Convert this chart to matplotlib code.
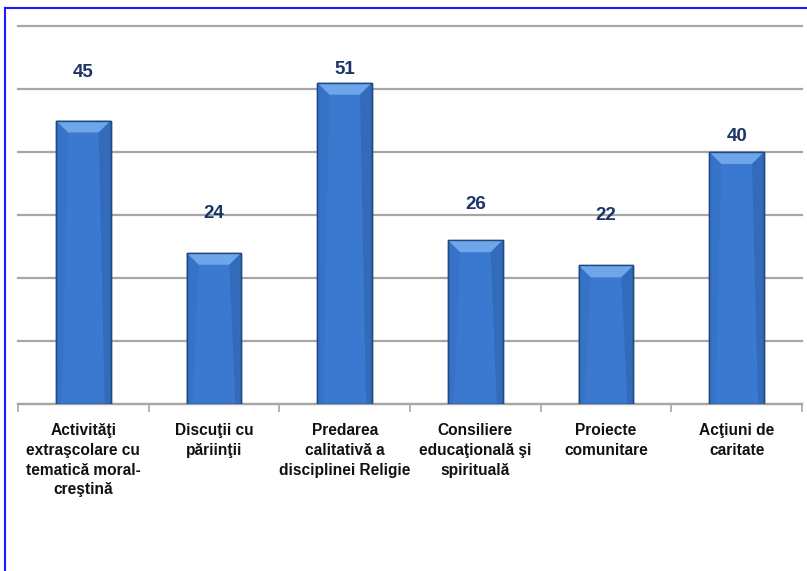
import matplotlib
matplotlib.use("Agg")
import matplotlib.pyplot as plt
from matplotlib.patches import Polygon, Rectangle
from matplotlib.lines import Line2D
import numpy as np

categories = [
    "Activităţi\nextraşcolare cu\ntematică moral-\ncreştină",
    "Discuţii cu\npăriinţii",
    "Predarea\ncalitativă a\ndisciplinei Religie",
    "Consiliere\neducaţională şi\nspirituală",
    "Proiecte\ncomunitare",
    "Acţiuni de\ncaritate",
]
values = [45, 24, 51, 26, 22, 40]
# where each value label sits above its bar (data units), as placed in the original
label_offsets = [7.6, 6.3, 2.1, 5.6, 7.9, 2.4]

plt.rcParams["font.family"] = ["Liberation Sans", "DejaVu Sans"]

fig = plt.figure(figsize=(8.07, 5.71), dpi=100)
ax = fig.add_axes([18 / 807, 1 - 404 / 571, 784 / 807, 378 / 571])

x = np.arange(len(values))
width = 0.42
bars = ax.bar(x, values, width=width, color="#3b78cf", edgecolor="#22497f",
              linewidth=1.0, zorder=3)

# bevel on top of each bar
for b in bars:
    x0, w, h = b.get_x(), b.get_width(), b.get_height()
    bev_x = w * 0.22
    bev_y = 1.9
    top = Polygon([[x0, h], [x0 + w, h], [x0 + w - bev_x, h - bev_y],
                   [x0 + bev_x, h - bev_y]], closed=True,
                  facecolor="#6ea6ea", edgecolor="none", zorder=4)
    ax.add_patch(top)
    left = Polygon([[x0, h], [x0 + bev_x, h - bev_y], [x0 + bev_x * 0.5, 0],
                    [x0, 0]], closed=True, facecolor="#3470c0",
                   edgecolor="none", zorder=4, alpha=0.6)
    ax.add_patch(left)
    right = Polygon([[x0 + w, h], [x0 + w - bev_x, h - bev_y],
                     [x0 + w - bev_x * 0.5, 0], [x0 + w, 0]], closed=True,
                    facecolor="#2c5fa8", edgecolor="none", zorder=4, alpha=0.5)
    ax.add_patch(right)
    ax.add_patch(Rectangle((x0, 0), w, h, fill=False, edgecolor="#22497f",
                           linewidth=1.0, zorder=5))

for xi, v, off in zip(x, values, label_offsets):
    ax.text(xi, v + off, str(v), ha="center", va="center", fontsize=13.5,
            fontweight="bold", color="#1b3566", zorder=6)

ax.set_xlim(-0.5, len(values) - 0.5)
ax.set_ylim(0, 60)
ax.set_yticks(np.arange(0, 61, 10))
ax.yaxis.grid(True, color="#a6a6a6", linewidth=1.6, zorder=0)
for gl in ax.get_ygridlines():
    gl.set_clip_on(False)
ax.tick_params(axis="y", left=False, labelleft=False)

ax.set_xticks(x)
ax.set_xticklabels(categories, fontsize=11.2, fontweight="bold", color="#111111",
                   linespacing=1.38)
ax.tick_params(axis="x", length=0, pad=14)
ax.set_xticks(np.arange(-0.5, len(values), 1.0), minor=True)
ax.tick_params(axis="x", which="minor", length=6, width=1.2, color="#a6a6a6",
               direction="out")

for s in ["top", "right", "left"]:
    ax.spines[s].set_visible(False)
ax.spines["bottom"].set_color("#a6a6a6")
ax.spines["bottom"].set_linewidth(1.6)

# blue frame of the chart (top and left edges visible)
fig.add_artist(Line2D([5 / 807, 5 / 807], [0, 1 - 8 / 571],
                      transform=fig.transFigure, color="#1a1aff", linewidth=1.5))
fig.add_artist(Line2D([5 / 807, 1], [1 - 8 / 571, 1 - 8 / 571],
                      transform=fig.transFigure, color="#1a1aff", linewidth=1.5))

fig.savefig("out.png", dpi=100, facecolor="white")
